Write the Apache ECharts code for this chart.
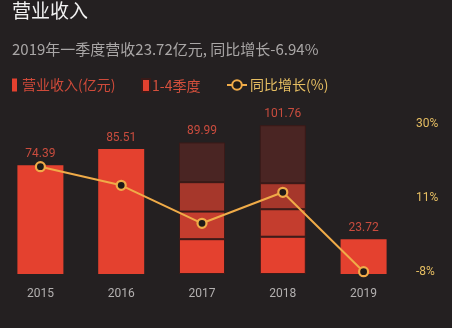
<!DOCTYPE html>
<html><head><meta charset="utf-8">
<script src="https://cdn.jsdelivr.net/npm/echarts@6/dist/echarts.min.js"></script>
<style>html,body{margin:0;padding:0;background:#242021;}#c{width:452px;height:328px;}</style>
</head><body><div id="c"></div>
<script>
var categories = ['2015', '2016', '2017', '2018', '2019'];
var totalRevenue = [74.39, 85.51, '-', '-', 23.72];
var q1 = ['-', '-', 23.8, 25.49, '-'];
var q2 = ['-', '-', 18.9, 18.8, '-'];
var q3 = ['-', '-', 20.1, 17.8, '-'];
var q4 = ['-', '-', 27.19, 39.67, '-'];
var stackTotals = ['-', '-', 89.99, 101.76, '-'];
var growth = [19.05, 14.27, 4.52, 12.48, -7.91];
var rightTicks = [-8, 11, 30];

var labelColor = '#c94c3e';
var chart = echarts.init(document.getElementById('c'), null, {renderer: 'canvas'});
var qBorder = {borderColor: '#3a1a18', borderWidth: 1};
function qSeries(name, data, color, withLabel) {
  return {
    name: name, type: 'bar', stack: 'rev', yAxisIndex: 0, barWidth: 46, data: data,
    itemStyle: Object.assign({color: color}, qBorder),
    label: withLabel ? {
      show: true, position: 'top', distance: 5, color: labelColor, fontSize: 12, fontFamily: 'Roboto',
      formatter: function (p) { return stackTotals[p.dataIndex]; }
    } : {show: false},
    emphasis: {disabled: true}
  };
}
chart.setOption({
  backgroundColor: '#242021',
  animation: false,
  title: [
    {text: '营业收入', left: 12, top: 1, padding: 0,
     textStyle: {color: '#f2f2f2', fontSize: 19, fontWeight: 'normal', fontFamily: 'Noto Sans CJK SC'}},
    {text: '2019年一季度营收23.72亿元, 同比增长-6.94%', left: 12, top: 42, padding: 0,
     textStyle: {color: '#a9a6a6', fontSize: 15, fontWeight: 'normal', fontFamily: 'Noto Sans CJK SC'}}
  ],
  legend: [
    {data: ['营业收入(亿元)'], left: 12, top: 78, padding: 0, itemWidth: 5, itemHeight: 13, icon: 'rect',
     textStyle: {color: '#cf4a3a', fontSize: 14, fontFamily: 'Noto Sans CJK SC'}},
    {data: ['1-4季度'], left: 141, top: 78, padding: 0, itemWidth: 8, itemHeight: 13, icon: 'rect', itemGap: 2,
     textStyle: {color: '#d5503d', fontSize: 14, fontFamily: 'Noto Sans CJK SC', padding: [0, 0, 0, -3]}},
    {data: ['同比增长(%)'], left: 226, top: 78, padding: 0, itemWidth: 20, itemHeight: 12,
     textStyle: {color: '#e6be62', fontSize: 14, fontFamily: 'Noto Sans CJK SC', padding: [0, 0, 0, -2]}}
  ],
  grid: {left: 0, right: 48, top: 100, bottom: 54, containLabel: false},
  xAxis: {
    type: 'category', data: categories,
    axisLine: {show: false}, axisTick: {show: false},
    axisLabel: {color: '#b3b0b0', fontSize: 12, fontFamily: 'Roboto', margin: 14}
  },
  yAxis: [
    {type: 'value', min: 0, max: 119, show: false, splitLine: {show: false}},
    {type: 'value', min: -8.5, max: 36.17, position: 'right',
     axisLine: {show: false}, axisTick: {show: false}, splitLine: {show: false},
     axisLabel: {customValues: rightTicks, color: '#e6be62', fontSize: 12, fontFamily: 'Roboto', margin: 12,
       formatter: function (v) { return v + '%'; }}}
  ],
  series: [
    {name: '营业收入(亿元)', type: 'bar', stack: 'rev', barWidth: 46, data: totalRevenue,
     itemStyle: {color: '#e4412f'},
     label: {show: true, position: 'top', distance: 5, color: labelColor, fontSize: 12, fontFamily: 'Roboto'},
     emphasis: {disabled: true}},
    qSeries('1-4季度', q1, '#e4412f', false),
    qSeries('Q2', q2, '#c43d2e', false),
    qSeries('Q3', q3, '#a6372b', false),
    qSeries('Q4', q4, '#4a2523', true),
    {name: '同比增长(%)', type: 'line', yAxisIndex: 1, data: growth,
     symbol: 'circle', symbolSize: 9,
     lineStyle: {color: '#f0ab48', width: 2},
     itemStyle: {color: '#1e1a18', borderColor: '#f0ab48', borderWidth: 2.2},
     emphasis: {disabled: true}, z: 5}
  ]
});
</script></body></html>
